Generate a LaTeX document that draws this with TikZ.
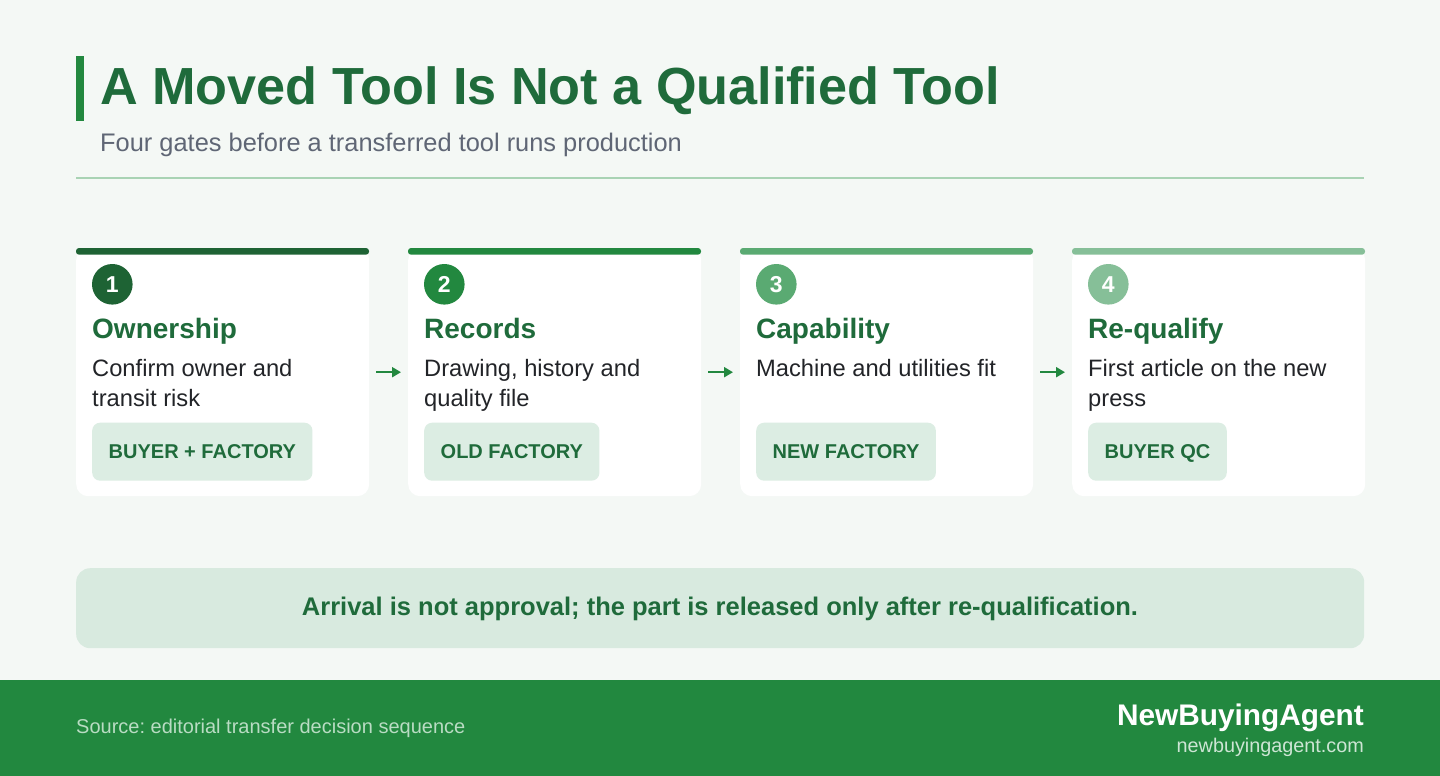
\documentclass[tikz,border=0pt]{standalone}
\usepackage{fontspec}
\setmainfont{Liberation Sans}
\usetikzlibrary{arrows.meta}
\frenchspacing
\definecolor{bg}{HTML}{F4F8F5}
\definecolor{titlegreen}{HTML}{1F6B3B}
\definecolor{accent}{HTML}{22883F}
\definecolor{cA}{HTML}{1E6334}
\definecolor{cB}{HTML}{22883F}
\definecolor{cC}{HTML}{5AAA72}
\definecolor{cD}{HTML}{86BF98}
\definecolor{tagfill}{HTML}{DCEDE3}
\definecolor{bannerfill}{HTML}{D8EADF}
\definecolor{divider}{HTML}{A9D3B4}
\definecolor{bodytext}{HTML}{222428}
\definecolor{subgray}{HTML}{5F6675}
\definecolor{srctext}{HTML}{B9DCC3}
\definecolor{comtext}{HTML}{CDE5D4}
\tikzset{
  card/.style={fill=white, rounded corners=12pt, minimum width=293pt, minimum height=248pt, inner sep=0pt, anchor=north west},
  numcircle/.style={circle, minimum size=40.6pt, inner sep=0pt, text=white, font=\fontsize{23}{27}\selectfont\bfseries},
  heading/.style={anchor=base west, inner sep=0pt, text=titlegreen, font=\fontsize{28}{32}\selectfont\bfseries},
  bodyline/.style={anchor=base west, inner sep=0pt, text=bodytext, font=\fontsize{23.7}{28}\selectfont},
  tagbox/.style={anchor=west, fill=tagfill, rounded corners=8pt, minimum height=58pt, inner xsep=16.5pt, inner ysep=0pt, text height=14.3pt, text depth=0pt, text=titlegreen, font=\fontsize{20}{24}\selectfont\bfseries},
  flowarrow/.style={draw=accent, line width=2pt, -{Triangle[length=9pt,width=10pt]}, shorten <=7pt, shorten >=7pt}
}
\begin{document}
\begin{tikzpicture}[x=1pt,y=-1pt]
\fill[bg] (0,0) rectangle (1440,776);
\useasboundingbox (0,0) rectangle (1440,776);
% header
\fill[accent] (76,56) rectangle (84,121);
\node[anchor=base west, inner sep=0pt, text=titlegreen, font=\fontsize{52.2}{60}\selectfont\bfseries] (title) at (100,104) {A Moved Tool Is Not a Qualified Tool};
\node[anchor=base west, inner sep=0pt, text=subgray, font=\fontsize{25.4}{30}\selectfont] (subtitle) at (100,151.7) {Four gates before a transferred tool runs production};
\draw[divider, line width=2pt] (76,178) -- (1364,178);
% cards
\foreach \i/\x/\col in {1/76/cA, 2/408/cB, 3/740/cC, 4/1072/cD} {
  \node[card] (c\i) at (\x,248) {};
  \fill[\col, rounded corners=3pt] (\x,248) rectangle (\x+293,254.7);
  \node[numcircle, fill=\col] (n\i) at (\x+36.3,284.3) {\i};
}
\node[heading] (h1) at (92,338) {Ownership};
\node[heading] (h2) at (424,338) {Records};
\node[heading] (h3) at (756,338) {Capability};
\node[heading] (h4) at (1088,338) {Re-qualify};
\node[bodyline] (b1a) at (92,376.7) {Confirm owner and};
\node[bodyline] (b1b) at (92,406.7) {transit risk};
\node[bodyline] (b2a) at (424,376.7) {Drawing, history and};
\node[bodyline] (b2b) at (424,406.7) {quality file};
\node[bodyline] (b3a) at (756,376.7) {Machine and utilities fit};
\node[bodyline] (b4a) at (1088,376.7) {First article on the new};
\node[bodyline] (b4b) at (1088,406.7) {press};
\node[tagbox] (t1) at (92,451.7) {BUYER + FACTORY};
\node[tagbox] (t2) at (424,451.7) {OLD FACTORY};
\node[tagbox] (t3) at (756,451.7) {NEW FACTORY};
\node[tagbox] (t4) at (1088,451.7) {BUYER QC};
% arrows
\draw[flowarrow] (c1.east) -- (c2.west);
\draw[flowarrow] (c2.east) -- (c3.west);
\draw[flowarrow] (c3.east) -- (c4.west);
% banner
\node[fill=bannerfill, rounded corners=14pt, minimum width=1288pt, minimum height=80pt, inner sep=0pt, anchor=north west] (banner) at (76,568) {};
\node[anchor=base, inner sep=0pt, text=titlegreen, font=\fontsize{25.5}{30}\selectfont\bfseries] (bannertext) at (720,615) {Arrival is not approval; the part is released only after re-qualification.};
% footer
\fill[accent] (0,680) rectangle (1440,776);
\node[anchor=base west, inner sep=0pt, text=srctext, font=\fontsize{20}{24}\selectfont] (source) at (76,733.3) {Source: editorial transfer decision sequence};
\node[anchor=base east, inner sep=0pt, text=white, font=\fontsize{29.8}{34}\selectfont\bfseries] (brand) at (1364,725) {NewBuyingAgent};
\node[anchor=base east, inner sep=0pt, text=comtext, font=\fontsize{19.8}{24}\selectfont] (site) at (1364,752.5) {newbuyingagent.com};
\end{tikzpicture}
\end{document}
